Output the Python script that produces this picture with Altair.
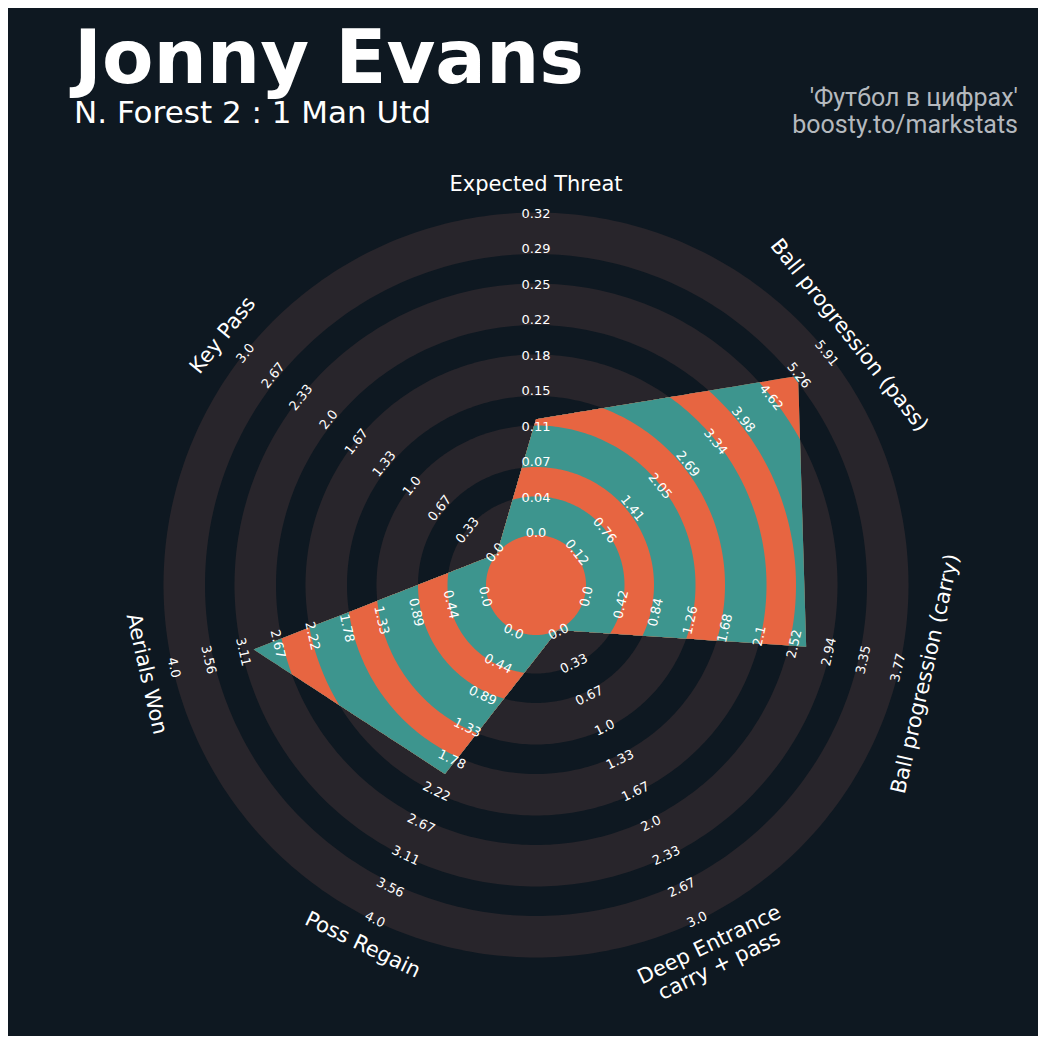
import math
import numpy as np
import pandas as pd
import altair as alt

# ---------------- data ----------------
params = ["Expected Threat", "Ball progression (pass)", "Ball progression (carry)",
          "Deep Entrance\ncarry + pass", "Poss Regain", "Aerials Won", "Key Pass"]
min_range = [0.0, 0.12, 0.0, 0.0, 0.0, 0.0, 0.0]
max_range = [0.32, 5.91, 3.77, 3.0, 4.0, 4.0, 3.0]
values = [0.116, 5.29, 2.68, 0.0, 2.0, 3.0, 0.0]

labels_xt = ["0.0", "0.04", "0.07", "0.11", "0.15", "0.18", "0.22", "0.25", "0.29", "0.32"]
labels_pass = ["0.12", "0.76", "1.41", "2.05", "2.69", "3.34", "3.98", "4.62", "5.26", "5.91"]
labels_carry = ["0.0", "0.42", "0.84", "1.26", "1.68", "2.1", "2.52", "2.94", "3.35", "3.77"]
labels_deep = ["0.0", "0.33", "0.67", "1.0", "1.33", "1.67", "2.0", "2.33", "2.67", "3.0"]
labels_regain = ["0.0", "0.44", "0.89", "1.33", "1.78", "2.22", "2.67", "3.11", "3.56", "4.0"]
labels_aerial = ["0.0", "0.44", "0.89", "1.33", "1.78", "2.22", "2.67", "3.11", "3.56", "4.0"]
labels_key = ["0.0", "0.33", "0.67", "1.0", "1.33", "1.67", "2.0", "2.33", "2.67", "3.0"]
tick_labels = [labels_xt, labels_pass, labels_carry, labels_deep, labels_regain, labels_aerial, labels_key]

title = "Jonny Evans"
subtitle = "N. Forest 2 : 1 Man Utd"
credit1 = "'Футбол в цифрах'"
credit2 = "boosty.to/markstats"

# ---------------- layout / style ----------------
W, H = 1030, 1028
CX, CY = 528, 577
R0, STEP, NR, EDGE = 50.0, 35.5, 9, 3.0
R_PARAM = 400.0
BG = "#0e1821"
GRAY = "#28252b"
TEAL = "#3d958e"
ORANGE = "#e76541"
TXT = "#ffffff"
CREDIT = "#b4b9be"

N = len(params)
PHI = 360.0 / N


def ring(i):
    return R0 + STEP * i


def theta(phi):
    return math.radians(90.0 - phi)


rad = [R0 + NR * STEP * (v - lo) / (hi - lo) for v, lo, hi in zip(values, min_range, max_range)]
verts = [(r * math.cos(theta(k * PHI)), r * math.sin(theta(k * PHI))) for k, r in enumerate(rad)]


def cross(a, b):
    return a[0] * b[1] - a[1] * b[0]


def poly_radius(phi):
    k = int((phi % 360) // PHI) % N
    A = verts[k]
    B = verts[(k + 1) % N]
    th = theta(phi)
    d = (math.cos(th), math.sin(th))
    E = (B[0] - A[0], B[1] - A[1])
    den = cross(d, E)
    if abs(den) < 1e-12:
        return math.hypot(*A)
    return cross(A, E) / den


def crossings(r):
    out = []
    for k in range(N):
        A = np.array(verts[k])
        B = np.array(verts[(k + 1) % N])
        E = B - A
        a = E @ E
        b = 2 * A @ E
        c = A @ A - r * r
        disc = b * b - 4 * a * c
        if disc < 0 or a == 0:
            continue
        for s in ((-b - math.sqrt(disc)) / (2 * a), (-b + math.sqrt(disc)) / (2 * a)):
            if 0 <= s <= 1:
                p = A + s * E
                out.append((90 - math.degrees(math.atan2(p[1], p[0]))) % 360)
    return out


def region(r, clip):
    phis = set(np.round(np.arange(0, 360, 1.0), 6).tolist())
    if clip:
        phis |= {k * PHI for k in range(N)}
        phis |= set(crossings(r))
    pts = []
    for p in sorted(x % 360 for x in phis):
        rho = min(r, poly_radius(p)) if clip else r
        th = theta(p)
        pts.append((rho * math.cos(th), rho * math.sin(th)))
    return pts


layers_spec = [
    (ring(9) + EDGE, False, GRAY), (ring(8) - EDGE, False, BG),
    (ring(7) + EDGE, False, GRAY), (ring(6) - EDGE, False, BG),
    (ring(5) + EDGE, False, GRAY), (ring(4) - EDGE, False, BG),
    (ring(3) + EDGE, False, GRAY), (ring(2) - EDGE, False, BG),
    (ring(1) + EDGE, False, GRAY),
    (1e9, True, TEAL),
    (ring(8) - EDGE, True, ORANGE), (ring(7) + EDGE, True, TEAL),
    (ring(6) - EDGE, True, ORANGE), (ring(5) + EDGE, True, TEAL),
    (ring(4) - EDGE, True, ORANGE), (ring(3) + EDGE, True, TEAL),
    (ring(2) - EDGE, True, ORANGE), (ring(1) + EDGE, True, TEAL),
    (ring(0), False, ORANGE),
]

rows = []
for rid, (r, clip, col) in enumerate(layers_spec):
    for o, (x, y) in enumerate(region(r, clip)):
        rows.append({"id": rid, "o": o, "x": round(x, 3), "y": round(y, 3)})
shapes = pd.DataFrame(rows)

xs = alt.Scale(domain=[-CX, W - CX], nice=False, zero=False)
ys = alt.Scale(domain=[-(H - CY), CY], nice=False, zero=False)

base = alt.Chart(shapes)
layers = []
for rid, (r, clip, col) in enumerate(layers_spec):
    layers.append(
        base.transform_filter(alt.datum.id == rid)
        .mark_line(filled=True, color=col, interpolate="linear-closed", strokeWidth=0)
        .encode(x=alt.X("x:Q", scale=xs, axis=None),
                y=alt.Y("y:Q", scale=ys, axis=None),
                order=alt.Order("o:Q"))
    )


def rot(phi):
    r = (-phi) % 360  # theta - 90 in degrees (CCW)
    if r > 180:
        r -= 360
    if r < -90:
        r += 180
    elif r > 90:
        r -= 180
    return (-r) % 360


lab_rows = []
for k in range(N):
    th = theta(k * PHI)
    for i, t in enumerate(tick_labels[k]):
        rr = ring(i) + 2
        lab_rows.append({"x": rr * math.cos(th), "y": rr * math.sin(th), "t": t, "a": rot(k * PHI)})
labs = pd.DataFrame(lab_rows)

par_rows = []
for k in range(N):
    th = theta(k * PHI)
    par_rows.append({"x": R_PARAM * math.cos(th), "y": R_PARAM * math.sin(th), "t": params[k], "a": rot(k * PHI)})
pars = pd.DataFrame(par_rows)

range_text = alt.Chart(labs).mark_text(font="DejaVu Sans", fontSize=13, color=TXT,
                                       align="center", baseline="middle").encode(
    x=alt.X("x:Q", scale=xs, axis=None), y=alt.Y("y:Q", scale=ys, axis=None),
    text="t:N", angle=alt.Angle("a:Q", scale=None))

param_text = alt.Chart(pars).mark_text(font="DejaVu Sans", fontSize=21, color=TXT,
                                       align="center", baseline="middle", lineBreak="\n").encode(
    x=alt.X("x:Q", scale=xs, axis=None), y=alt.Y("y:Q", scale=ys, axis=None),
    text="t:N", angle=alt.Angle("a:Q", scale=None))

tdf = pd.DataFrame({"t": [title]})
title_text = alt.Chart(tdf).mark_text(font="DejaVu Sans", fontSize=75, fontWeight="bold", color=TXT,
                                      align="left", baseline="alphabetic").encode(
    x=alt.value(66), y=alt.value(75), text="t:N")
sdf = pd.DataFrame({"t": [subtitle]})
sub_text = alt.Chart(sdf).mark_text(font="DejaVu Sans", fontSize=31, color=TXT,
                                    align="left", baseline="alphabetic").encode(
    x=alt.value(66), y=alt.value(115), text="t:N")
c1 = alt.Chart(pd.DataFrame({"t": [credit1]})).mark_text(font="Roboto", fontSize=25, color=CREDIT,
                                                        align="right", baseline="alphabetic").encode(
    x=alt.value(1010), y=alt.value(98), text="t:N")
c2 = alt.Chart(pd.DataFrame({"t": [credit2]})).mark_text(font="Roboto", fontSize=25, color=CREDIT,
                                                        align="right", baseline="alphabetic").encode(
    x=alt.value(1010), y=alt.value(125), text="t:N")

chart = alt.layer(*layers, range_text, param_text, title_text, sub_text, c1, c2).properties(
    width=W, height=H, padding=0, background=BG,
    autosize=alt.AutoSizeParams(type="none")
).configure_view(stroke=None)

chart.save("out.html", embed_options={"renderer": "svg", "actions": False})
